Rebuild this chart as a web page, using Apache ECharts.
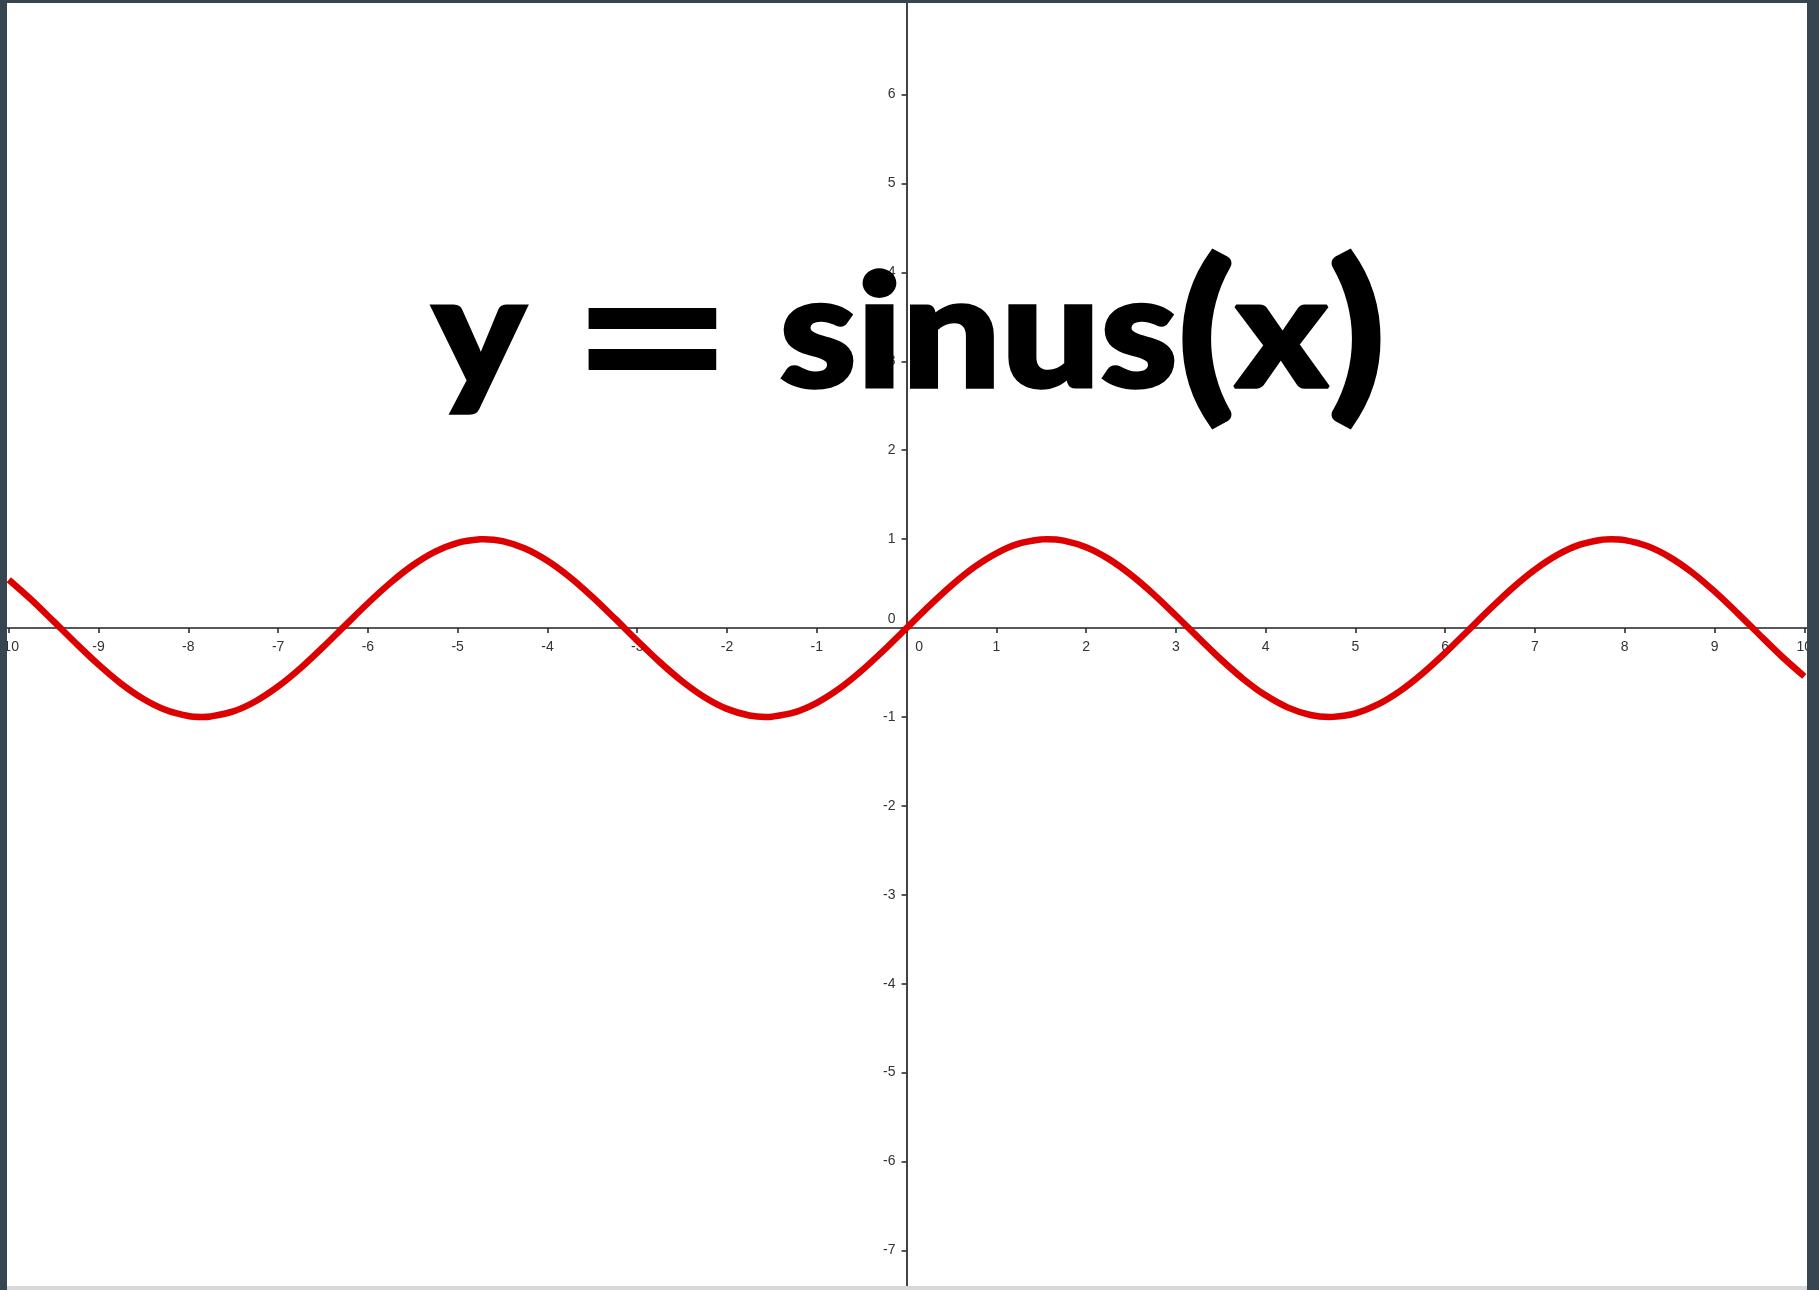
<!DOCTYPE html>
<html>
<head>
<meta charset="utf-8">
<style>
  html, body { margin: 0; padding: 0; background: #36454f; }
  #chart { width: 1819px; height: 1290px; }
</style>
<script src="https://cdn.jsdelivr.net/npm/echarts@6/dist/echarts.min.js"></script>
</head>
<body>
<div id="chart"></div>
<script>
// Values
const titleText = 'y = sinus(x)';
const xValues = [-10, -9.75, -9.5, -9.25, -9, -8.75, -8.5, -8.25, -8, -7.85, -7.75, -7.5, -7.25, -7, -6.75, -6.5, -6.25,
  -6, -5.75, -5.5, -5.25, -5, -4.75, -4.71, -4.5, -4.25, -4, -3.75, -3.5, -3.25, -3, -2.75, -2.5, -2.25,
  -2, -1.75, -1.57, -1.5, -1.25, -1, -0.75, -0.5, -0.25, 0, 0.25, 0.5, 0.75, 1, 1.25, 1.5, 1.57, 1.75,
  2, 2.25, 2.5, 2.75, 3, 3.25, 3.5, 3.75, 4, 4.25, 4.5, 4.71, 4.75, 5, 5.25, 5.5, 5.75,
  6, 6.25, 6.5, 6.75, 7, 7.25, 7.5, 7.75, 7.85, 8, 8.25, 8.5, 8.75, 9, 9.25, 9.5, 9.75, 10];
const yValues = [0.544, 0.320, 0.075, -0.174, -0.412, -0.625, -0.798, -0.922, -0.989, -1.000, -0.994, -0.938, -0.823, -0.657, -0.451, -0.215, 0.033,
  0.279, 0.508, 0.706, 0.859, 0.959, 0.999, 1.000, 0.978, 0.895, 0.757, 0.572, 0.351, 0.108, -0.141, -0.382, -0.598, -0.778,
  -0.909, -0.984, -1.000, -0.997, -0.949, -0.841, -0.682, -0.479, -0.247, 0, 0.247, 0.479, 0.682, 0.841, 0.949, 0.997, 1.000, 0.984,
  0.909, 0.778, 0.598, 0.382, 0.141, -0.108, -0.351, -0.572, -0.757, -0.895, -0.978, -1.000, -0.999, -0.959, -0.859, -0.706, -0.508,
  -0.279, -0.033, 0.215, 0.451, 0.657, 0.823, 0.938, 0.994, 1.000, 0.989, 0.922, 0.798, 0.625, 0.412, 0.174, -0.075, -0.320, -0.544];
const xTicks = [-10, -9, -8, -7, -6, -5, -4, -3, -2, -1, 0, 1, 2, 3, 4, 5, 6, 7, 8, 9, 10];
const yTicks = [-7, -6, -5, -4, -3, -2, -1, 0, 1, 2, 3, 4, 5, 6];

const pts = xValues.map((x, i) => [x, yValues[i]]);

const chart = echarts.init(document.getElementById('chart'), null, { renderer: 'canvas' });
const W = 1819, H = 1290;
const GRID = { left: 7, top: 3, width: 1800, height: 1283 };
const labelStyle = { fontFamily: 'Liberation Sans', fontSize: 14, color: '#333' };

// Title split into styled pieces (text stays "y = sinus(x)")
const m = titleText.match(/^(.*?)=(.*?)\((.*)\)$/);
const titleRich = '{t|' + m[1] + '}{e|=}{t|' + m[2] + '}{p|(}{t|' + m[3] + '}{p|)}';
const titleFont = { fontFamily: 'Lato', fontWeight: 900, fontSize: 156, fill: '#000', stroke: '#000', lineWidth: 3.5, verticalAlign: 'middle' };

const option = {
  backgroundColor: '#ffffff',
  animation: false,
  grid: Object.assign({ outerBoundsMode: 'none', containLabel: false }, GRID),
  xAxis: {
    type: 'value',
    min: -10.02,
    max: 10.03,
    position: 'bottom',
    offset: 0,
    splitLine: { show: false },
    axisLine: { onZero: false, lineStyle: { color: '#222', width: 1.5 } },
    axisTick: { show: true, length: 5, customValues: xTicks, lineStyle: { color: '#222', width: 1.5 } },
    axisLabel: Object.assign({
      customValues: xTicks,
      margin: 12,
      formatter: v => v === 0 ? '{z|0}' : String(v),
      rich: { z: Object.assign({ padding: [0, 0, 0, 25] }, labelStyle) }
    }, labelStyle),
    z: 1
  },
  yAxis: {
    type: 'value',
    min: -7.40,
    max: 7.03,
    position: 'left',
    offset: 0,
    splitLine: { show: false },
    axisLine: { onZero: false, lineStyle: { color: '#444', width: 2 } },
    axisTick: { show: true, length: 5, customValues: yTicks, lineStyle: { color: '#222', width: 1.5 } },
    axisLabel: Object.assign({
      customValues: yTicks,
      margin: 11,
      formatter: v => v === 0 ? '{z|0}' : String(v),
      rich: { z: Object.assign({ padding: [0, 0, 18, 0] }, labelStyle) }
    }, labelStyle),
    z: 1
  },
  series: [{
    type: 'line',
    data: pts,
    smooth: 0.3,
    showSymbol: false,
    symbol: 'none',
    clip: false,
    lineStyle: { color: '#dd0000', width: 6.5 },
    z: 5
  }],
  graphic: [
    {
      type: 'text',
      id: 'title',
      x: 909,
      y: 337,
      scaleX: 1.12,
      z: 2,
      style: {
        text: titleRich,
        x: 0,
        y: 0,
        align: 'center',
        verticalAlign: 'middle',
        rich: {
          t: Object.assign({}, titleFont),
          e: Object.assign({}, titleFont, { fontFamily: 'DejaVu Sans', fontWeight: 'bold', fontSize: 182, lineWidth: 0, padding: [23, 0, 0, 0] }),
          p: Object.assign({}, titleFont, { fontSize: 185 })
        }
      }
    },
    { type: 'rect', left: 0, top: 0, shape: { width: 7, height: H }, style: { fill: '#36454f' }, z: 100 },
    { type: 'rect', left: 1807, top: 0, shape: { width: 12, height: H }, style: { fill: '#36454f' }, z: 100 },
    { type: 'rect', left: 0, top: 0, shape: { width: W, height: 3 }, style: { fill: '#36454f' }, z: 100 },
    { type: 'rect', left: 7, top: 1286, shape: { width: 1800, height: 4 }, style: { fill: '#d8d8d8' }, z: 100 }
  ]
};
chart.setOption(option);

// Move each axis line onto the other axis's zero, using the library's own scales
const zeroX = chart.convertToPixel({ xAxisIndex: 0 }, 0);
const zeroY = chart.convertToPixel({ yAxisIndex: 0 }, 0);
chart.setOption({
  xAxis: { offset: -((GRID.top + GRID.height) - zeroY) },
  yAxis: { offset: -(zeroX - GRID.left) }
});
</script>
</body>
</html>
